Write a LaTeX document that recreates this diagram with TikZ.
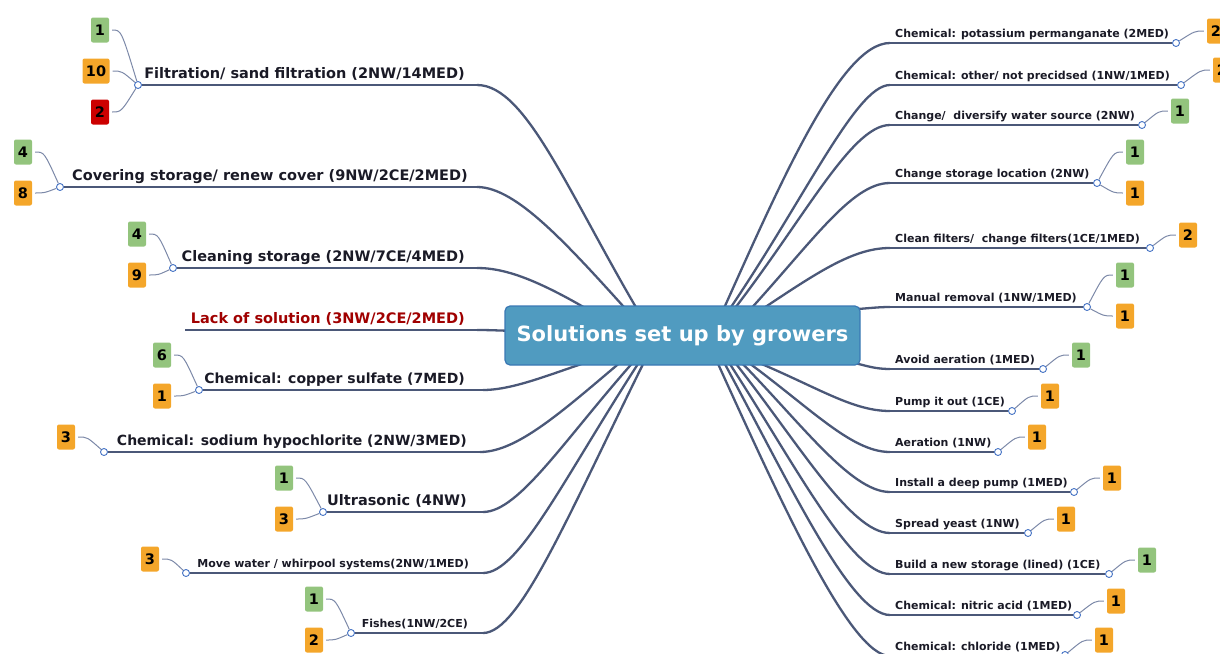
\documentclass[tikz,border=0pt]{standalone}
\usepackage{fontspec}
\setmainfont{DejaVu Sans}
\usetikzlibrary{calc}
\definecolor{conn}{HTML}{4B5878}
\definecolor{twigc}{HTML}{7C89A8}
\definecolor{hubc}{HTML}{4472C4}
\definecolor{bgreen}{HTML}{93C47D}
\definecolor{borange}{HTML}{F4A62A}
\definecolor{bred}{HTML}{CC0000}
\definecolor{boxc}{HTML}{509BC0}
\definecolor{boxb}{HTML}{3A78B4}
\definecolor{labc}{HTML}{1A1A26}
\definecolor{redlab}{HTML}{A00000}
\tikzset{
  big/.style={font=\bfseries\fontsize{14.5}{16}\selectfont, inner sep=0pt, text=labc},
  bigc/.style={font=\bfseries\fontsize{14}{16}\selectfont, inner sep=0pt, text=labc},
  small/.style={font=\bfseries\fontsize{11}{13}\selectfont, inner sep=0pt, text=labc},
  badge/.style={minimum width=18pt, minimum height=25pt, inner sep=0pt, rounded corners=2pt, font=\bfseries\fontsize{14.5}{16}\selectfont, text=black},
  gb/.style={badge, fill=bgreen},
  ob/.style={badge, fill=borange},
  rb/.style={badge, fill=bred},
  hub/.style={circle, draw=hubc, fill=white, line width=0.9pt, minimum size=7pt, inner sep=0pt},
  curve/.style={draw=conn, line width=2.3pt},
  uline/.style={draw=conn, line width=1.5pt},
  twig/.style={draw=twigc, line width=1pt},
}
\begin{document}
\begin{tikzpicture}[x=1pt,y=-1pt]
\useasboundingbox (0,0) rectangle (1220,653);

% ---------- main curves (behind center box) ----------
% left
\coordinate (L1e) at (477,85);   \coordinate (L1t) at (647,326);
\coordinate (L2e) at (477,187);  \coordinate (L2t) at (641,326);
\coordinate (L3e) at (477,268);  \coordinate (L3t) at (615,326);
\coordinate (L4s) at (185,330);  \coordinate (L4e) at (477,330); \coordinate (L4t) at (525,331);
\coordinate (L5e) at (483,390);  \coordinate (L5t) at (600,358);
\coordinate (L6e) at (480,452);  \coordinate (L6t) at (635,350);
\coordinate (L7e) at (483,512);  \coordinate (L7t) at (644,350);
\coordinate (L8e) at (483,573);  \coordinate (L8t) at (647,350);
\coordinate (L9e) at (483,633);  \coordinate (L9t) at (650,350);
\draw[curve] (L1e) .. controls (527,85) and (569,196) .. (L1t);
\draw[curve] (L2e) .. controls (517,187) and (569,246) .. (L2t);
\draw[curve] (L3e) .. controls (507,268) and (543,281) .. (L3t);
\draw[curve] (L4e) .. controls (495,330) and (505,331) .. (L4t);
\draw[curve] (L5e) .. controls (515,390) and (555,372) .. (L5t);
\draw[curve] (L6e) .. controls (520,452) and (569,405) .. (L6t);
\draw[curve] (L7e) .. controls (520,512) and (567,435) .. (L7t);
\draw[curve] (L8e) .. controls (520,573) and (565,475) .. (L8t);
\draw[curve] (L9e) .. controls (520,633) and (568,515) .. (L9t);
% right
\coordinate (R1s) at (890,43);   \coordinate (R1t) at (716,326);
\coordinate (R2s) at (890,85);   \coordinate (R2t) at (718,326);
\coordinate (R3s) at (890,125);  \coordinate (R3t) at (721,326);
\coordinate (R4s) at (890,183);  \coordinate (R4t) at (735,326);
\coordinate (R5s) at (890,248);  \coordinate (R5t) at (737,326);
\coordinate (R6s) at (890,307);  \coordinate (R6t) at (840,310);
\coordinate (R7s) at (890,369);  \coordinate (R7t) at (840,360);
\coordinate (R8s) at (890,411);  \coordinate (R8t) at (740,355);
\coordinate (R9s) at (890,452);  \coordinate (R9t) at (738,355);
\coordinate (R10s) at (890,492); \coordinate (R10t) at (734,355);
\coordinate (R11s) at (890,533); \coordinate (R11t) at (729,355);
\coordinate (R12s) at (890,574); \coordinate (R12t) at (724,355);
\coordinate (R13s) at (890,615); \coordinate (R13t) at (720,355);
\coordinate (R14s) at (890,656); \coordinate (R14t) at (714,355);
\draw[curve] (R1s) .. controls (840,43) and (779,186) .. (R1t);
\draw[curve] (R2s) .. controls (855,85) and (802,206) .. (R2t);
\draw[curve] (R3s) .. controls (850,125) and (801,226) .. (R3t);
\draw[curve] (R4s) .. controls (850,183) and (810,246) .. (R4t);
\draw[curve] (R5s) .. controls (850,248) and (812,276) .. (R5t);
\draw[curve] (R6s) .. controls (875,307) and (865,309) .. (R6t);
\draw[curve] (R7s) .. controls (870,369) and (860,363) .. (R7t);
\draw[curve] (R8s) .. controls (850,411) and (815,385) .. (R8t);
\draw[curve] (R9s) .. controls (850,452) and (808,405) .. (R9t);
\draw[curve] (R10s) .. controls (850,492) and (799,420) .. (R10t);
\draw[curve] (R11s) .. controls (850,533) and (797,440) .. (R11t);
\draw[curve] (R12s) .. controls (850,574) and (793,460) .. (R12t);
\draw[curve] (R13s) .. controls (850,615) and (788,480) .. (R13t);
\draw[curve] (R14s) .. controls (850,656) and (780,500) .. (R14t);

% ---------- center ----------
\node[fill=boxc, draw=boxb, line width=1.2pt, rounded corners=5pt, minimum width=355pt, minimum height=59pt, inner sep=0pt, text=white, font=\bfseries\fontsize{21}{24}\selectfont] (center) at (682.5,335.5) {Solutions set up by growers};

% ---------- left branches ----------
\node[hub] (L1h) at (138,85) {};
\node[hub] (L2h) at (60,187) {};
\node[hub] (L3h) at (173,268) {};
\node[hub] (L5h) at (199,390) {};
\node[hub] (L6h) at (104,452) {};
\node[hub] (L7h) at (323,512) {};
\node[hub] (L8h) at (186,573) {};
\node[hub] (L9h) at (351,633) {};
\draw[uline] (L1h) -- (L1e);
\draw[uline] (L2h) -- (L2e);
\draw[uline] (L3h) -- (L3e);
\draw[uline] (L4s) -- (L4e);
\draw[uline] (L5h) -- (L5e);
\draw[uline] (L6h) -- (L6e);
\draw[uline] (L7h) -- (L7e);
\draw[uline] (L8h) -- (L8e);
\draw[uline] (L9h) -- (L9e);

\node[big, anchor=base east] (L1l) at (465,78) {Filtration/ sand filtration (2NW/14MED)};
\node[big, anchor=base east] (L2l) at (468,180) {Covering storage/ renew cover (9NW/2CE/2MED)};
\node[big, anchor=base east] (L3l) at (465,261) {Cleaning storage (2NW/7CE/4MED)};
\node[big, anchor=base east, text=redlab] (L4l) at (465,323) {Lack of solution (3NW/2CE/2MED)};
\node[bigc, anchor=base east] (L5l) at (465,383) {Chemical: copper sulfate (7MED)};
\node[bigc, anchor=base east] (L6l) at (467,445) {Chemical: sodium hypochlorite (2NW/3MED)};
\node[big, anchor=base east] (L7l) at (467,505) {Ultrasonic (4NW)};
\node[small, anchor=base east] (L8l) at (469,567) {Move water / whirpool systems(2NW/1MED)};
\node[small, anchor=base east] (L9l) at (468,627) {Fishes(1NW/2CE)};

\node[gb] (b1a) at (100,30) {1};
\node[ob, minimum width=27pt] (b1b) at (96,71) {10};
\node[rb] (b1c) at (100,112) {2};
\node[gb] (b2a) at (23,152) {4};
\node[ob] (b2b) at (23,193) {8};
\node[gb] (b3a) at (137,234) {4};
\node[ob] (b3b) at (137,275) {9};
\node[gb] (b5a) at (162,355) {6};
\node[ob] (b5b) at (162,396) {1};
\node[ob] (b6a) at (66,437) {3};
\node[gb] (b7a) at (284,478) {1};
\node[ob] (b7b) at (284,519) {3};
\node[ob] (b8a) at (150,559) {3};
\node[gb] (b9a) at (314,599) {1};
\node[ob] (b9b) at (314,640) {2};

\foreach \h/\b in {L1h/b1a, L1h/b1b, L1h/b1c, L2h/b2a, L2h/b2b, L3h/b3a, L3h/b3b, L5h/b5a, L5h/b5b, L6h/b6a, L7h/b7a, L7h/b7b, L8h/b8a, L9h/b9a, L9h/b9b}
  \draw[twig] ($(\b.east)+(3,0)$) .. controls ($(\b.east)+(12,0)$) .. (\h);

% ---------- right branches ----------
\node[hub] (R1h) at (1176,43) {};
\node[hub] (R2h) at (1181,85) {};
\node[hub] (R3h) at (1142,125) {};
\node[hub] (R4h) at (1097,183) {};
\node[hub] (R5h) at (1150,248) {};
\node[hub] (R6h) at (1087,307) {};
\node[hub] (R7h) at (1043,369) {};
\node[hub] (R8h) at (1012,411) {};
\node[hub] (R9h) at (998,452) {};
\node[hub] (R10h) at (1074,492) {};
\node[hub] (R11h) at (1028,533) {};
\node[hub] (R12h) at (1109,574) {};
\node[hub] (R13h) at (1077,615) {};
\node[hub] (R14h) at (1065,655) {};
\foreach \i in {1,...,14}
  \draw[uline] (R\i s) -- (R\i h);

\node[small, anchor=base west] (R1l) at (895,37) {Chemical: potassium permanganate (2MED)};
\node[small, anchor=base west] (R2l) at (895,79) {Chemical: other/ not precidsed (1NW/1MED)};
\node[small, anchor=base west] (R3l) at (895,119) {Change/\ \ diversify water source (2NW)};
\node[small, anchor=base west] (R4l) at (895,177) {Change storage location (2NW)};
\node[small, anchor=base west] (R5l) at (895,242) {Clean filters/\ \ change filters(1CE/1MED)};
\node[small, anchor=base west] (R6l) at (895,301) {Manual removal (1NW/1MED)};
\node[small, anchor=base west] (R7l) at (895,363) {Avoid aeration (1MED)};
\node[small, anchor=base west] (R8l) at (895,405) {Pump it out (1CE)};
\node[small, anchor=base west] (R9l) at (895,446) {Aeration (1NW)};
\node[small, anchor=base west] (R10l) at (895,486) {Install a deep pump (1MED)};
\node[small, anchor=base west] (R11l) at (895,527) {Spread yeast (1NW)};
\node[small, anchor=base west] (R12l) at (895,568) {Build a new storage (lined) (1CE)};
\node[small, anchor=base west] (R13l) at (895,609) {Chemical: nitric acid (1MED)};
\node[small, anchor=base west] (R14l) at (895,650) {Chemical: chloride (1MED)};

\node[ob] (c1a) at (1216,31) {2};
\node[ob] (c2a) at (1222,70) {2};
\node[gb] (c3a) at (1180,111) {1};
\node[gb] (c4a) at (1135,152) {1};
\node[ob] (c4b) at (1135,193) {1};
\node[ob] (c5a) at (1188,235) {2};
\node[gb] (c6a) at (1125,275) {1};
\node[ob] (c6b) at (1125,316) {1};
\node[gb] (c7a) at (1081,355) {1};
\node[ob] (c8a) at (1050,396) {1};
\node[ob] (c9a) at (1037,437) {1};
\node[ob] (c10a) at (1112,478) {1};
\node[ob] (c11a) at (1066,519) {1};
\node[gb] (c12a) at (1147,560) {1};
\node[ob] (c13a) at (1116,601) {1};
\node[ob] (c14a) at (1104,640) {1};

\foreach \h/\b in {R1h/c1a, R2h/c2a, R3h/c3a, R4h/c4a, R4h/c4b, R5h/c5a, R6h/c6a, R6h/c6b, R7h/c7a, R8h/c8a, R9h/c9a, R10h/c10a, R11h/c11a, R12h/c12a, R13h/c13a, R14h/c14a}
  \draw[twig] (\h) .. controls ($(\b.west)+(-12,0)$) .. ($(\b.west)+(-3,0)$);
\end{tikzpicture}
\end{document}
